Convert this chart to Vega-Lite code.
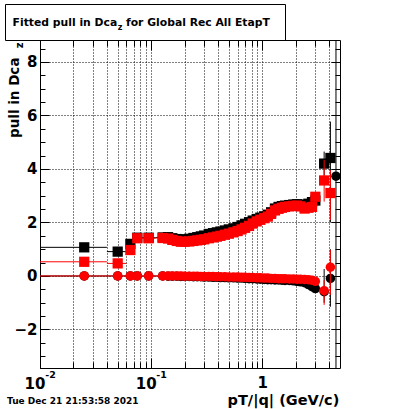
{
  "$schema": "https://vega.github.io/schema/vega-lite/v6.json",
  "background": "white",
  "padding": {"left": 4, "top": 3, "right": 5, "bottom": 2},
  "config": {
    "view": {"stroke": "#000", "strokeWidth": 1},
    "axis": {"labelFont": "DejaVu Sans", "labelFontWeight": "bold", "labelColor": "#000", "titleFont": "DejaVu Sans", "titleFontWeight": "bold", "titleColor": "#000", "tickColor": "#000", "tickWidth": 1, "domain": false, "grid": false, "gridColor": "#000", "gridDash": [1, 2], "gridOpacity": 1, "gridWidth": 1, "labelOverlap": false, "labelFlush": false, "labelBound": false}
  },
  "datasets": {
    "pts": [
      {"g": "bs", "x": 0.025, "y": 1.07, "xlo": 0.01, "xhi": 0.04},
      {"g": "bs", "x": 0.05, "y": 0.91, "xlo": 0.04, "xhi": 0.06},
      {"g": "bs", "x": 0.065, "y": 1.20, "xlo": 0.06, "xhi": 0.07},
      {"g": "bs", "x": 0.075, "y": 1.43, "xlo": 0.07, "xhi": 0.085},
      {"g": "bs", "x": 0.095, "y": 1.43, "xlo": 0.085, "xhi": 0.11},
      {"g": "bs", "x": 0.127, "y": 1.44, "xlo": 0.11, "xhi": 0.135},
      {"g": "bs", "x": 0.142, "y": 1.45}, {"g": "bs", "x": 0.155, "y": 1.41}, {"g": "bs", "x": 0.17, "y": 1.38}, {"g": "bs", "x": 0.185, "y": 1.36},
      {"g": "bs", "x": 0.2, "y": 1.37}, {"g": "bs", "x": 0.22, "y": 1.39}, {"g": "bs", "x": 0.24, "y": 1.42}, {"g": "bs", "x": 0.26, "y": 1.45},
      {"g": "bs", "x": 0.28, "y": 1.48}, {"g": "bs", "x": 0.3, "y": 1.51}, {"g": "bs", "x": 0.33, "y": 1.57}, {"g": "bs", "x": 0.36, "y": 1.60},
      {"g": "bs", "x": 0.39, "y": 1.63}, {"g": "bs", "x": 0.42, "y": 1.66}, {"g": "bs", "x": 0.46, "y": 1.70}, {"g": "bs", "x": 0.5, "y": 1.74},
      {"g": "bs", "x": 0.55, "y": 1.78}, {"g": "bs", "x": 0.6, "y": 1.83}, {"g": "bs", "x": 0.65, "y": 1.89}, {"g": "bs", "x": 0.7, "y": 1.95},
      {"g": "bs", "x": 0.76, "y": 2.01}, {"g": "bs", "x": 0.82, "y": 2.07}, {"g": "bs", "x": 0.89, "y": 2.13}, {"g": "bs", "x": 0.96, "y": 2.18},
      {"g": "bs", "x": 1.04, "y": 2.23}, {"g": "bs", "x": 1.12, "y": 2.29}, {"g": "bs", "x": 1.2, "y": 2.38}, {"g": "bs", "x": 1.3, "y": 2.52},
      {"g": "bs", "x": 1.4, "y": 2.58}, {"g": "bs", "x": 1.5, "y": 2.61}, {"g": "bs", "x": 1.6, "y": 2.63}, {"g": "bs", "x": 1.75, "y": 2.65},
      {"g": "bs", "x": 1.9, "y": 2.67}, {"g": "bs", "x": 2.05, "y": 2.68}, {"g": "bs", "x": 2.2, "y": 2.67}, {"g": "bs", "x": 2.4, "y": 2.64},
      {"g": "bs", "x": 2.6, "y": 2.70}, {"g": "bs", "x": 2.8, "y": 2.76}, {"g": "bs", "x": 3.0, "y": 2.82},
      {"g": "bs", "x": 3.6, "y": 4.2, "lo": 3.75, "hi": 4.65},
      {"g": "bs", "x": 4.1, "y": 4.41, "lo": 2.0, "hi": 5.77},

      {"g": "rs", "x": 0.025, "y": 0.53, "xlo": 0.01, "xhi": 0.04},
      {"g": "rs", "x": 0.05, "y": 0.47, "xlo": 0.04, "xhi": 0.06},
      {"g": "rs", "x": 0.065, "y": 0.97, "xlo": 0.06, "xhi": 0.07},
      {"g": "rs", "x": 0.075, "y": 1.41, "xlo": 0.07, "xhi": 0.085},
      {"g": "rs", "x": 0.095, "y": 1.41, "xlo": 0.085, "xhi": 0.11},
      {"g": "rs", "x": 0.127, "y": 1.42, "xlo": 0.11, "xhi": 0.135},
      {"g": "rs", "x": 0.142, "y": 1.40}, {"g": "rs", "x": 0.155, "y": 1.35}, {"g": "rs", "x": 0.17, "y": 1.31}, {"g": "rs", "x": 0.185, "y": 1.28},
      {"g": "rs", "x": 0.2, "y": 1.28}, {"g": "rs", "x": 0.22, "y": 1.29}, {"g": "rs", "x": 0.24, "y": 1.31}, {"g": "rs", "x": 0.26, "y": 1.33},
      {"g": "rs", "x": 0.28, "y": 1.35}, {"g": "rs", "x": 0.3, "y": 1.37}, {"g": "rs", "x": 0.33, "y": 1.41}, {"g": "rs", "x": 0.36, "y": 1.44},
      {"g": "rs", "x": 0.39, "y": 1.47}, {"g": "rs", "x": 0.42, "y": 1.50}, {"g": "rs", "x": 0.46, "y": 1.54}, {"g": "rs", "x": 0.5, "y": 1.58},
      {"g": "rs", "x": 0.55, "y": 1.63}, {"g": "rs", "x": 0.6, "y": 1.68}, {"g": "rs", "x": 0.65, "y": 1.74}, {"g": "rs", "x": 0.7, "y": 1.80},
      {"g": "rs", "x": 0.76, "y": 1.87}, {"g": "rs", "x": 0.82, "y": 1.96}, {"g": "rs", "x": 0.89, "y": 2.04}, {"g": "rs", "x": 0.96, "y": 2.10},
      {"g": "rs", "x": 1.04, "y": 2.16}, {"g": "rs", "x": 1.12, "y": 2.22}, {"g": "rs", "x": 1.2, "y": 2.32}, {"g": "rs", "x": 1.3, "y": 2.45},
      {"g": "rs", "x": 1.4, "y": 2.51}, {"g": "rs", "x": 1.5, "y": 2.55}, {"g": "rs", "x": 1.6, "y": 2.58}, {"g": "rs", "x": 1.75, "y": 2.60},
      {"g": "rs", "x": 1.9, "y": 2.62}, {"g": "rs", "x": 2.05, "y": 2.63}, {"g": "rs", "x": 2.2, "y": 2.60}, {"g": "rs", "x": 2.4, "y": 2.52},
      {"g": "rs", "x": 2.6, "y": 2.55}, {"g": "rs", "x": 2.8, "y": 2.58}, {"g": "rs", "x": 3.0, "y": 2.96},
      {"g": "rs", "x": 3.6, "y": 3.57, "lo": 2.78, "hi": 4.34},
      {"g": "rs", "x": 4.1, "y": 3.1, "lo": 2.09, "hi": 3.96},

      {"g": "bc", "x": 0.025, "y": 0, "xlo": 0.01, "xhi": 0.04},
      {"g": "bc", "x": 0.05, "y": 0, "xlo": 0.04, "xhi": 0.06},
      {"g": "bc", "x": 0.065, "y": 0, "xlo": 0.06, "xhi": 0.07},
      {"g": "bc", "x": 0.075, "y": 0, "xlo": 0.07, "xhi": 0.085},
      {"g": "bc", "x": 0.095, "y": 0, "xlo": 0.085, "xhi": 0.11},
      {"g": "bc", "x": 0.127, "y": 0, "xlo": 0.11, "xhi": 0.135},
      {"g": "bc", "x": 0.142, "y": -0.01}, {"g": "bc", "x": 0.155, "y": -0.01}, {"g": "bc", "x": 0.17, "y": -0.01}, {"g": "bc", "x": 0.185, "y": -0.02},
      {"g": "bc", "x": 0.2, "y": -0.02}, {"g": "bc", "x": 0.22, "y": -0.02}, {"g": "bc", "x": 0.24, "y": -0.03}, {"g": "bc", "x": 0.26, "y": -0.03},
      {"g": "bc", "x": 0.28, "y": -0.03}, {"g": "bc", "x": 0.3, "y": -0.04}, {"g": "bc", "x": 0.33, "y": -0.04}, {"g": "bc", "x": 0.36, "y": -0.05},
      {"g": "bc", "x": 0.39, "y": -0.05}, {"g": "bc", "x": 0.42, "y": -0.06}, {"g": "bc", "x": 0.46, "y": -0.06}, {"g": "bc", "x": 0.5, "y": -0.07},
      {"g": "bc", "x": 0.55, "y": -0.07}, {"g": "bc", "x": 0.6, "y": -0.08}, {"g": "bc", "x": 0.65, "y": -0.08}, {"g": "bc", "x": 0.7, "y": -0.09},
      {"g": "bc", "x": 0.76, "y": -0.10}, {"g": "bc", "x": 0.82, "y": -0.10}, {"g": "bc", "x": 0.89, "y": -0.11}, {"g": "bc", "x": 0.96, "y": -0.12},
      {"g": "bc", "x": 1.04, "y": -0.13}, {"g": "bc", "x": 1.12, "y": -0.14}, {"g": "bc", "x": 1.2, "y": -0.14}, {"g": "bc", "x": 1.3, "y": -0.15},
      {"g": "bc", "x": 1.4, "y": -0.15}, {"g": "bc", "x": 1.5, "y": -0.16}, {"g": "bc", "x": 1.6, "y": -0.17}, {"g": "bc", "x": 1.75, "y": -0.17},
      {"g": "bc", "x": 1.9, "y": -0.18}, {"g": "bc", "x": 2.05, "y": -0.20}, {"g": "bc", "x": 2.2, "y": -0.22}, {"g": "bc", "x": 2.4, "y": -0.25},
      {"g": "bc", "x": 2.6, "y": -0.32}, {"g": "bc", "x": 2.8, "y": -0.40}, {"g": "bc", "x": 3.0, "y": -0.47},
      {"g": "bc", "x": 3.6, "y": -0.59, "lo": -1.0, "hi": 0.26},
      {"g": "bc", "x": 4.1, "y": -0.09, "lo": -1.15, "hi": 1.0},
      {"g": "bc", "x": 4.6, "y": 3.73, "lo": -5, "hi": 12},

      {"g": "rc", "x": 0.025, "y": 0, "xlo": 0.01, "xhi": 0.04},
      {"g": "rc", "x": 0.05, "y": 0, "xlo": 0.04, "xhi": 0.06},
      {"g": "rc", "x": 0.065, "y": 0, "xlo": 0.06, "xhi": 0.07},
      {"g": "rc", "x": 0.075, "y": 0, "xlo": 0.07, "xhi": 0.085},
      {"g": "rc", "x": 0.095, "y": 0, "xlo": 0.085, "xhi": 0.11},
      {"g": "rc", "x": 0.127, "y": 0, "xlo": 0.11, "xhi": 0.135},
      {"g": "rc", "x": 0.142, "y": 0}, {"g": "rc", "x": 0.155, "y": 0}, {"g": "rc", "x": 0.17, "y": 0}, {"g": "rc", "x": 0.185, "y": 0},
      {"g": "rc", "x": 0.2, "y": -0.01}, {"g": "rc", "x": 0.22, "y": -0.01}, {"g": "rc", "x": 0.24, "y": -0.01}, {"g": "rc", "x": 0.26, "y": -0.01},
      {"g": "rc", "x": 0.28, "y": -0.02}, {"g": "rc", "x": 0.3, "y": -0.02}, {"g": "rc", "x": 0.33, "y": -0.02}, {"g": "rc", "x": 0.36, "y": -0.02},
      {"g": "rc", "x": 0.39, "y": -0.03}, {"g": "rc", "x": 0.42, "y": -0.03}, {"g": "rc", "x": 0.46, "y": -0.03}, {"g": "rc", "x": 0.5, "y": -0.04},
      {"g": "rc", "x": 0.55, "y": -0.04}, {"g": "rc", "x": 0.6, "y": -0.04}, {"g": "rc", "x": 0.65, "y": -0.05}, {"g": "rc", "x": 0.7, "y": -0.05},
      {"g": "rc", "x": 0.76, "y": -0.06}, {"g": "rc", "x": 0.82, "y": -0.06}, {"g": "rc", "x": 0.89, "y": -0.07}, {"g": "rc", "x": 0.96, "y": -0.07},
      {"g": "rc", "x": 1.04, "y": -0.08}, {"g": "rc", "x": 1.12, "y": -0.08}, {"g": "rc", "x": 1.2, "y": -0.09}, {"g": "rc", "x": 1.3, "y": -0.09},
      {"g": "rc", "x": 1.4, "y": -0.10}, {"g": "rc", "x": 1.5, "y": -0.10}, {"g": "rc", "x": 1.6, "y": -0.10}, {"g": "rc", "x": 1.75, "y": -0.11},
      {"g": "rc", "x": 1.9, "y": -0.11}, {"g": "rc", "x": 2.05, "y": -0.12}, {"g": "rc", "x": 2.2, "y": -0.12}, {"g": "rc", "x": 2.4, "y": -0.13},
      {"g": "rc", "x": 2.6, "y": -0.14}, {"g": "rc", "x": 2.8, "y": -0.16}, {"g": "rc", "x": 3.0, "y": -0.20},
      {"g": "rc", "x": 3.6, "y": -0.55, "lo": -1.08, "hi": -0.15},
      {"g": "rc", "x": 4.1, "y": 0.33, "lo": -0.71, "hi": 0.97}
    ]
  },
  "concat": [
    {
      "width": 280,
      "height": 36,
      "view": {"stroke": "#000", "strokeWidth": 1, "fill": "white"},
      "layer": [
        {"data": {"values": [{"t": "Fitted pull in Dca"}]}, "mark": {"type": "text", "align": "right", "baseline": "alphabetic", "dx": -27.8, "dy": 3.5, "font": "DejaVu Sans", "fontWeight": "bold", "fontSize": 10.8, "color": "#000"}, "encoding": {"text": {"field": "t"}}},
        {"data": {"values": [{"t": "z"}]}, "mark": {"type": "text", "align": "left", "baseline": "alphabetic", "dx": -27.3, "dy": 7.5, "font": "DejaVu Sans", "fontWeight": "bold", "fontSize": 8, "color": "#000"}, "encoding": {"text": {"field": "t"}}},
        {"data": {"values": [{"t": "for Global Rec All EtapT"}]}, "mark": {"type": "text", "align": "left", "baseline": "alphabetic", "dx": -19, "dy": 3.5, "font": "DejaVu Sans", "fontWeight": "bold", "fontSize": 10.8, "color": "#000"}, "encoding": {"text": {"field": "t"}}}
      ]
    },
    {
      "spacing": 0,
      "hconcat": [
        {
          "width": 1,
          "height": 1,
          "view": {"stroke": null},
          "data": {"values": []},
          "mark": "point"
        },
        {
          "width": 300,
          "height": 328,
          "data": {"name": "pts"},
          "resolve": {"axis": {"x": "independent", "y": "independent"}},
          "layer": [
            {
              "transform": [{"filter": "(datum.g=='bs'||datum.g=='bc') && isValid(datum.lo)"}],
              "mark": {"type": "rule", "color": "#000", "strokeWidth": 1, "clip": true},
              "encoding": {
                "x": {"field": "x", "type": "quantitative", "scale": {"type": "log", "domain": [0.01, 5], "nice": false},
                  "axis": {"orient": "bottom", "values": [0.01,0.02,0.03,0.04,0.05,0.06,0.07,0.08,0.09,0.1,0.2,0.3,0.4,0.5,0.6,0.7,0.8,0.9,1,2,3,4], "grid": true, "tickSize": -6,
                    "labelExpr": "datum.value==0.01||datum.value==0.1?'10':''", "labelFontSize": 15, "labelBaseline": "alphabetic", "labelAlign": "center", "labelPadding": 26, "labelOffset": -5.5,
                    "title": "Tue Dec 21 21:53:58 2021", "titleFontSize": 9, "titleAnchor": "start", "titleAlign": "left", "titleBaseline": "alphabetic", "titleX": -33.5, "titleY": 35.5}},
                "y": {"field": "lo", "type": "quantitative", "scale": {"domain": [-3.44, 8.82], "nice": false, "zero": false},
                  "axis": {"orient": "left", "values": [-2,0,2,4,6,8], "grid": true, "tickSize": -9, "labelFontSize": 15, "labelPadding": 12,
                    "title": "pull in Dca", "titleFontSize": 13.5, "titleAngle": 270, "titleAlign": "right", "titleBaseline": "alphabetic", "titleX": -21.5, "titleY": 17}},
                "y2": {"field": "hi"}
              }
            },
            {
              "transform": [{"filter": "(datum.g=='bs'||datum.g=='bc') && isValid(datum.xlo)"}],
              "mark": {"type": "rule", "color": "#000", "strokeWidth": 1, "clip": true},
              "encoding": {
                "x": {"field": "xlo", "type": "quantitative", "scale": {"type": "log"},
                  "axis": {"orient": "top", "values": [0.01,0.02,0.03,0.04,0.05,0.06,0.07,0.08,0.09,0.1,0.2,0.3,0.4,0.5,0.6,0.7,0.8,0.9,1,2,3,4], "tickSize": -6, "labels": false, "title": null}},
                "x2": {"field": "xhi"},
                "y": {"field": "y", "type": "quantitative",
                  "axis": {"orient": "right", "values": [-2,0,2,4,6,8], "tickSize": -9, "labels": false, "title": null}}
              }
            },
            {
              "transform": [{"filter": "datum.g=='bs'"}],
              "mark": {"type": "point", "shape": "square", "filled": true, "size": 105, "color": "#000", "opacity": 1},
              "encoding": {
                "x": {"field": "x", "type": "quantitative", "scale": {"type": "log"},
                  "axis": {"orient": "bottom", "values": [0.01, 0.1, 1], "tickSize": -10, "labelExpr": "datum.value==1?'1':''", "labelFontSize": 15, "labelBaseline": "alphabetic", "labelAlign": "center", "labelPadding": 29,
                    "title": "pT/|q| (GeV/c)", "titleFontSize": 14.5, "titleAnchor": "end", "titleAlign": "right", "titleBaseline": "alphabetic", "titleX": 298.8, "titleY": 36.5}},
                "y": {"field": "y", "type": "quantitative",
                  "axis": {"orient": "left", "values": [-3,-2.5,-1.5,-1,-0.5,0.5,1,1.5,2.5,3,3.5,4.5,5,5.5,6.5,7,7.5,8.5], "tickSize": -5, "labels": false,
                    "title": "z", "titleFontSize": 10, "titleAngle": 270, "titleAlign": "right", "titleBaseline": "alphabetic", "titleX": -18, "titleY": 2}}
              }
            },
            {
              "transform": [{"filter": "datum.g=='bc'"}],
              "mark": {"type": "point", "shape": "circle", "filled": true, "size": 90, "color": "#000", "opacity": 1},
              "encoding": {
                "x": {"field": "x", "type": "quantitative", "scale": {"type": "log"},
                  "axis": {"orient": "top", "values": [0.01, 0.1, 1], "tickSize": -10, "labels": false, "title": null}},
                "y": {"field": "y", "type": "quantitative",
                  "axis": {"orient": "right", "values": [-3,-2.5,-1.5,-1,-0.5,0.5,1,1.5,2.5,3,3.5,4.5,5,5.5,6.5,7,7.5,8.5], "tickSize": -5, "labels": false, "title": null}}
              }
            },
            {
              "transform": [{"filter": "(datum.g=='rs'||datum.g=='rc') && isValid(datum.lo)"}],
              "mark": {"type": "rule", "color": "#ff0000", "strokeWidth": 1, "clip": true},
              "encoding": {
                "x": {"field": "x", "type": "quantitative", "scale": {"type": "log"},
                  "axis": {"orient": "bottom", "values": [0.01, 0.1], "ticks": false, "tickSize": 0, "labelExpr": "datum.value==0.01?'-2':'-1'", "labelFontSize": 9.5, "labelBaseline": "alphabetic", "labelAlign": "center", "labelPadding": 9, "labelOffset": 10, "title": null}},
                "y": {"field": "lo", "type": "quantitative", "axis": null},
                "y2": {"field": "hi"}
              }
            },
            {
              "transform": [{"filter": "(datum.g=='rs'||datum.g=='rc') && isValid(datum.xlo)"}],
              "mark": {"type": "rule", "color": "#ff0000", "strokeWidth": 1, "clip": true},
              "encoding": {
                "x": {"field": "xlo", "type": "quantitative", "scale": {"type": "log"}, "axis": null},
                "x2": {"field": "xhi"},
                "y": {"field": "y", "type": "quantitative", "axis": null}
              }
            },
            {
              "transform": [{"filter": "datum.g=='rs'"}],
              "mark": {"type": "point", "shape": "square", "filled": true, "size": 105, "color": "#ff0000", "opacity": 1},
              "encoding": {
                "x": {"field": "x", "type": "quantitative", "scale": {"type": "log"}, "axis": null},
                "y": {"field": "y", "type": "quantitative", "axis": null}
              }
            },
            {
              "transform": [{"filter": "datum.g=='rc'"}],
              "mark": {"type": "point", "shape": "circle", "filled": true, "size": 90, "color": "#ff0000", "opacity": 1},
              "encoding": {
                "x": {"field": "x", "type": "quantitative", "scale": {"type": "log"}, "axis": null},
                "y": {"field": "y", "type": "quantitative", "axis": null}
              }
            }
          ]
        }
      ]
    }
  ],
  "columns": 1,
  "align": "none",
  "spacing": -2
}
